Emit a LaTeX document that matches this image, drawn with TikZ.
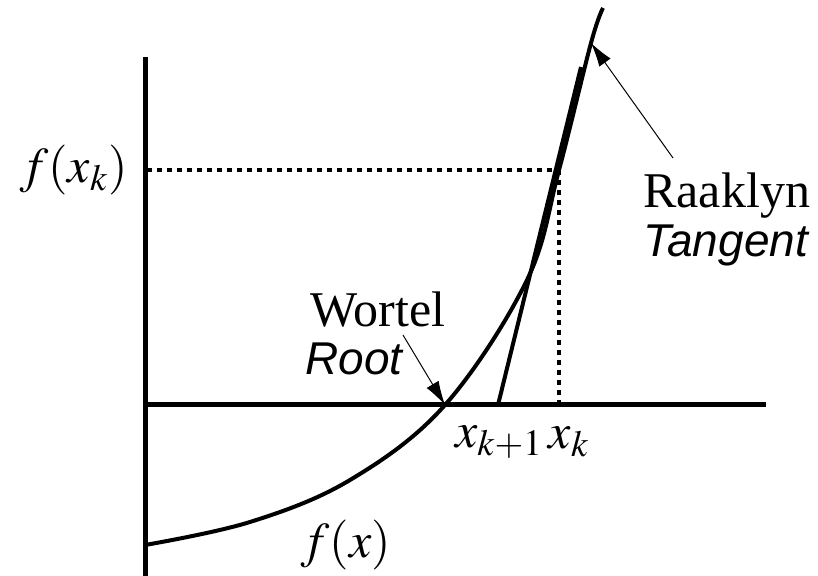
\documentclass[tikz,border=0pt]{standalone}
\usepackage{mathptmx}
\usepackage{fontspec}
\setmainfont{Liberation Serif}
\setsansfont{Liberation Sans}
\usepackage{tikz}
\usetikzlibrary{positioning, calc, arrows.meta}
\tikzset{
  every node/.style={font=\fontsize{25}{27}\selectfont, inner sep=0pt},
  axis/.style={line width=2.5pt},
  curve/.style={line width=2pt},
  guide/.style={line width=2pt, dash pattern=on 2.5pt off 2.5pt},
  pointer/.style={line width=0.5pt, -{Latex[length=12pt, width=7pt]}},
  lab/.style={anchor=base west},
  englab/.style={anchor=base west, font=\fontsize{23}{26}\selectfont\sffamily\itshape},
}

\begin{document}
\begin{tikzpicture}[x=0.5pt, y=-0.5pt]
  \useasboundingbox (0,0) rectangle (818,576);

  % ---- axes ----------------------------------------------------------------
  \coordinate (ybot) at (145,576);
  \coordinate (ytop) at (145,57);
  \coordinate (xl)   at (145,405);
  \coordinate (xr)   at (766,405);
  \draw[axis] (ybot) -- (ytop);
  \draw[axis] (xl) -- (xr);

  % ---- function, root and tangent -------------------------------------------
  \coordinate (root) at (445,405);
  \coordinate (fk)   at (559,170);
  \coordinate (xk)   at (559,405);
  \coordinate (xk1)  at (498,405);
  \coordinate (ttop) at (581,67);
  \coordinate (tan)  at (591,43);
  \draw[curve] plot[smooth, tension=0.6] coordinates
    {(145,545) (250,522) (350,480) (445,405) (527,280) (559,170) (591,43) (603,8)};
  \draw[curve] (xk1) -- (ttop);

  % ---- dotted guides ---------------------------------------------------------
  \coordinate (fkax) at (147,170);
  \draw[guide] (fkax) -- (fk);
  \draw[guide] (fk) -- (xk);

  % ---- labels -----------------------------------------------------------------
  \node[anchor=east] (lfk) at (128,170) {$f(x_k)$};
  \node (lxk1) at (499,442) {$x_{k+1}$};
  \node (lxk)  at (569,442) {$x_k$};
  \node (lfx)  at (346,545) {$f(x)$};
  \node[lab] (wortel) at (310,327) {Wortel};
  \node[englab] (rootlab) at (305,375) {Root};
  \node[lab] (raaklyn) at (643,208) {Raaklyn};
  \node[englab] (tanlab) at (643,257) {Tangent};

  % ---- pointers --------------------------------------------------------------
  \coordinate (rootfrom) at (403,335);
  \coordinate (tanfrom)  at (673,158);
  \draw[pointer] (rootfrom) -- (root);
  \draw[pointer] (tanfrom) -- (tan);
\end{tikzpicture}
\end{document}
